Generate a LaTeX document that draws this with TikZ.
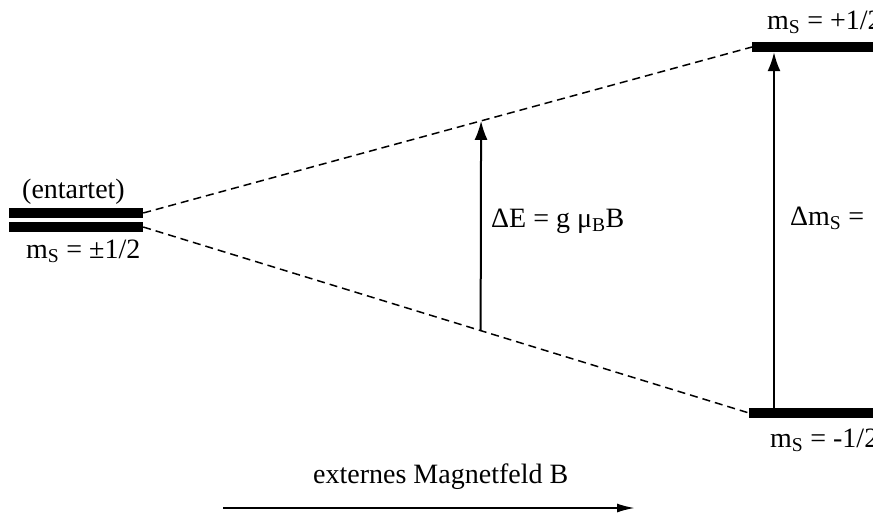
\documentclass[tikz,border=0pt]{standalone}
\usepackage{fontspec}
\setmainfont{Liberation Serif}
\usetikzlibrary{calc, arrows.meta}

\begin{document}
\begin{tikzpicture}[x=1pt, y=-1pt,
  level/.style={fill=black, inner sep=0pt, minimum height=10pt},
  lbl/.style={anchor=base west, inner sep=0pt, font=\fontsize{28}{34}\selectfont},
  split/.style={line width=1.5pt, dash pattern=on 8pt off 5pt},
  trans/.style={line width=2pt, -{Latex[length=19pt,width=13pt]}}]
  \useasboundingbox (0,0) rectangle (873,514);
  \clip (0,0) rectangle (873,514);
  % energy levels
  \node[level, minimum width=134pt] (D1) at (76,213) {};
  \node[level, minimum width=134pt] (D2) at (76,227) {};
  \node[level, minimum width=160pt, anchor=west] (U) at (752,47) {};
  \node[level, minimum width=160pt, anchor=west] (L) at (749,413) {};
  % splitting
  \draw[split] (D1.east) -- (U.west);
  \draw[split] (D2.east) -- (L.west);
  \coordinate (A) at ($(D1.east)!0.555!(U.west)$);
  \coordinate (B) at ($(D2.east)!0.557!(L.west)$);
  \coordinate (rx) at (774,0);
  \draw[trans] (B) -- (A);
  \draw[trans] (L.north -| rx) -- (U.south -| rx);
  % field
  \coordinate (F0) at (223,508);
  \coordinate (F1) at (635,508);
  \draw[line width=2pt, -{Latex[length=18pt,width=9pt]}] (F0) -- (F1);
  % labels
  \node[lbl] (deg) at (22,198) {(entartet)};
  \node[lbl] (msd) at (26,258) {m\textsubscript{S} = ±1/2};
  \node[lbl] (msu) at (767,29) {m\textsubscript{S} = +1/2};
  \node[lbl] (msl) at (770,447) {m\textsubscript{S} = -1/2};
  \node[lbl] (dE) at (491,227) {ΔE = g μ\textsubscript{B}B};
  \node[lbl] (dm) at (790,225) {Δm\textsubscript{S} = 1};
  \node[lbl] (field) at (313,483) {externes Magnetfeld B};
\end{tikzpicture}
\end{document}
